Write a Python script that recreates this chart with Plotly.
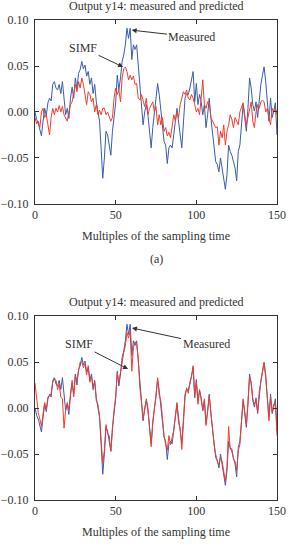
import plotly.graph_objects as go

t = list(range(151))

measured = [
    0.000, -0.008, -0.012, -0.020, -0.026, -0.010, 0.004, -0.004, 0.010, 0.015,
    0.012, 0.030, 0.033, 0.026, 0.024, 0.030, 0.020, 0.033, 0.012, -0.003,
    0.004, -0.007, 0.015, 0.027, 0.015, 0.037, 0.025, 0.042, 0.046, 0.055,
    0.047, 0.051, 0.039, 0.044, 0.030, 0.037, 0.020, 0.030, 0.011, 0.001,
    -0.010, -0.040, -0.072, -0.050, -0.021, -0.025, -0.036, -0.047, -0.021, -0.006,
    0.010, 0.040, 0.024, 0.037, 0.055, 0.062, 0.073, 0.091, 0.080, 0.091,
    0.057, 0.073, 0.068, 0.073, 0.051, 0.026, 0.004, -0.014, 0.000, 0.008,
    -0.003, -0.021, -0.039, -0.017, -0.003, 0.015, 0.031, 0.019, 0.004, -0.014,
    -0.032, -0.036, -0.056, -0.039, -0.036, -0.039, -0.021, -0.010, 0.004, -0.014,
    -0.025, -0.039, -0.006, 0.015, 0.020, 0.019, 0.026, 0.037, 0.044, 0.011,
    0.031, 0.008, 0.019, 0.011, -0.003, 0.008, -0.017, -0.003, 0.015, -0.006,
    -0.025, -0.039, -0.054, -0.057, -0.065, -0.050, -0.061, -0.075, -0.084, -0.068,
    -0.036, -0.043, -0.047, -0.054, -0.061, -0.075, -0.043, -0.036, -0.010, 0.008,
    -0.006, -0.021, 0.004, 0.037, 0.026, 0.008, 0.001, 0.011, -0.006, 0.015,
    0.030, 0.040, 0.049, 0.033, 0.015, -0.010, 0.015, -0.006, 0.001, 0.010,
    -0.025,
]

simf_a = [
    -0.006, -0.013, -0.010, -0.017, 0.000, 0.004, -0.006, -0.003, -0.014, -0.025,
    -0.006, 0.004, -0.003, 0.004, 0.000, 0.007, 0.000, 0.006, -0.003, -0.006,
    -0.010, 0.000, 0.008, 0.011, 0.019, 0.030, 0.022, 0.033, 0.026, 0.037,
    0.030, 0.019, 0.008, 0.022, 0.019, 0.011, 0.015, 0.000, 0.008, -0.003,
    0.002, -0.003, 0.004, 0.004, -0.003, 0.000, -0.006, -0.010, -0.006, 0.015,
    0.026, 0.019, 0.024, 0.011, 0.037, 0.047, 0.049, 0.044, 0.035, 0.040,
    0.035, 0.039, 0.030, 0.031, 0.015, 0.013, 0.019, 0.011, 0.006, 0.015,
    -0.003, 0.004, 0.008, 0.011, 0.000, 0.006, -0.014, -0.003, -0.014, -0.006,
    -0.021, -0.017, -0.026, -0.022, -0.028, -0.014, -0.003, -0.010, 0.000, -0.006,
    0.008, 0.015, 0.022, 0.019, 0.024, 0.015, 0.013, 0.019, 0.015, 0.008,
    0.000, 0.004, -0.003, 0.015, 0.035, 0.008, 0.004, 0.011, 0.011, -0.006,
    -0.010, -0.014, -0.017, -0.016, -0.036, -0.021, -0.028, -0.014, -0.036, -0.021,
    -0.014, -0.003, -0.008, -0.017, -0.006, -0.010, -0.014, 0.000, 0.006, 0.010,
    -0.003, -0.014, -0.006, 0.004, 0.011, -0.010, -0.017, 0.000, 0.008, 0.004,
    0.011, 0.013, 0.011, 0.000, 0.004, -0.006, -0.014, 0.004, 0.000, 0.004,
    -0.003,
]

simf_b = [
    0.027, 0.010, -0.005, -0.012, -0.020, -0.006, 0.006, -0.002, 0.012, 0.013,
    0.016, 0.028, 0.032, 0.030, 0.020, 0.026, 0.012, 0.010, -0.022, -0.002,
    0.006, -0.002, 0.018, 0.030, 0.012, 0.035, 0.030, 0.040, 0.050, 0.050,
    0.044, 0.048, 0.036, 0.046, 0.028, 0.034, 0.024, 0.028, 0.008, 0.004,
    -0.008, -0.035, -0.060, -0.046, -0.018, -0.028, -0.030, -0.047, -0.018, -0.002,
    0.012, 0.038, 0.028, 0.040, 0.052, 0.060, 0.068, 0.082, 0.076, 0.084,
    0.040, 0.066, 0.072, 0.070, 0.054, 0.022, 0.006, -0.012, -0.002, 0.010,
    0.000, -0.020, -0.042, -0.014, 0.000, 0.012, 0.033, 0.014, 0.008, -0.016,
    -0.030, -0.040, -0.046, -0.030, -0.040, -0.032, -0.024, -0.008, 0.006, -0.016,
    -0.022, -0.045, -0.008, 0.012, 0.022, 0.016, 0.028, 0.034, 0.046, 0.014,
    0.028, 0.004, 0.020, 0.008, -0.002, 0.010, -0.019, -0.004, 0.013, -0.004,
    -0.024, -0.040, -0.050, -0.058, -0.062, -0.054, -0.058, -0.070, -0.080, -0.064,
    -0.020, -0.045, -0.044, -0.056, -0.058, -0.068, -0.046, -0.040, -0.012, 0.010,
    -0.004, -0.018, 0.006, 0.034, 0.028, 0.010, 0.004, 0.008, -0.004, 0.018,
    0.028, 0.042, 0.050, 0.036, 0.012, -0.014, 0.012, -0.004, 0.004, 0.006,
    -0.030,
]

x_ticks = [0, 50, 100, 150]
y_ticks = [-0.10, -0.05, 0.00, 0.05, 0.10]
title_text = "Output y14: measured and predicted"
xlabel_text = "Multiples of the sampling time"

BLUE = "#3a5cae"
RED = "#ef3e2e"
FONT = "Liberation Serif"
TXT = "#333333"

fig = go.Figure()
fig.add_trace(go.Scatter(x=t, y=measured, mode="lines", line=dict(color=BLUE, width=1),
                         xaxis="x", yaxis="y", showlegend=False))
fig.add_trace(go.Scatter(x=t, y=simf_a, mode="lines", line=dict(color=RED, width=1),
                         xaxis="x", yaxis="y", showlegend=False))
fig.add_trace(go.Scatter(x=t, y=measured, mode="lines", line=dict(color=BLUE, width=1),
                         xaxis="x2", yaxis="y2", showlegend=False))
fig.add_trace(go.Scatter(x=t, y=simf_b, mode="lines", line=dict(color=RED, width=1),
                         xaxis="x2", yaxis="y2", showlegend=False))

axis_common = dict(showline=True, linecolor="#333333", linewidth=1, mirror="ticks",
                   ticks="inside", ticklen=4, tickcolor="#333333", showgrid=False,
                   zeroline=False, automargin=False,
                   tickfont=dict(family=FONT, size=12, color=TXT))

fig.update_layout(
    width=291, height=545,
    margin=dict(l=35, r=14, t=20, b=45),
    paper_bgcolor="white", plot_bgcolor="white",
    xaxis=dict(domain=[0, 1], range=[0, 150], tickvals=x_ticks, anchor="y", **axis_common),
    yaxis=dict(domain=[0.6167, 1], range=[-0.10, 0.10], tickvals=y_ticks, tickformat=".2f",
               anchor="x", ticklabelstandoff=3, **axis_common),
    xaxis2=dict(domain=[0, 1], range=[0, 150], tickvals=x_ticks, anchor="y2", **axis_common),
    yaxis2=dict(domain=[0, 0.3833], range=[-0.10, 0.10], tickvals=y_ticks, tickformat=".2f",
                anchor="x2", ticklabelstandoff=3, **axis_common),
)

ann_font = dict(family=FONT, size=12, color=TXT)
annotations = [
    dict(text=title_text, xref="paper", yref="paper", x=0.5, y=1.029, showarrow=False,
         font=ann_font, xanchor="center", yanchor="middle"),
    dict(text=xlabel_text, xref="paper", yref="paper", x=0.5, y=0.55, showarrow=False,
         font=ann_font, xanchor="center", yanchor="middle"),
    dict(text="(a)", xref="paper", yref="paper", x=0.5, y=0.502, showarrow=False,
         font=ann_font, xanchor="center", yanchor="middle"),
    dict(text=title_text, xref="paper", yref="paper", x=0.5, y=0.4125, showarrow=False,
         font=ann_font, xanchor="center", yanchor="middle"),
    dict(text=xlabel_text, xref="paper", yref="paper", x=0.5, y=-0.0667, showarrow=False,
         font=ann_font, xanchor="center", yanchor="middle"),
    # top plot arrows
    dict(text="Measured", xref="x", yref="y", x=59.9, y=0.089, axref="x", ayref="y",
         ax=97.3, ay=0.0815, showarrow=True, arrowhead=2, arrowsize=1, arrowwidth=1,
         arrowcolor="#333333", font=ann_font),
    dict(text="SIMF", xref="x", yref="y", x=54.6, y=0.049, axref="x", ayref="y",
         ax=29.8, ay=0.0696, showarrow=True, arrowhead=2, arrowsize=1, arrowwidth=1,
         arrowcolor="#333333", font=ann_font),
    # bottom plot arrows
    dict(text="Measured", xref="x2", yref="y2", x=60.1, y=0.087, axref="x2", ayref="y2",
         ax=106.0, ay=0.0696, showarrow=True, arrowhead=2, arrowsize=1, arrowwidth=1,
         arrowcolor="#333333", font=ann_font),
    dict(text="SIMF", xref="x2", yref="y2", x=57.7, y=0.0424, axref="x2", ayref="y2",
         ax=27.3, ay=0.0696, showarrow=True, arrowhead=2, arrowsize=1, arrowwidth=1,
         arrowcolor="#333333", font=ann_font),
]
fig.update_layout(annotations=annotations)

fig.write_html("out.html")
